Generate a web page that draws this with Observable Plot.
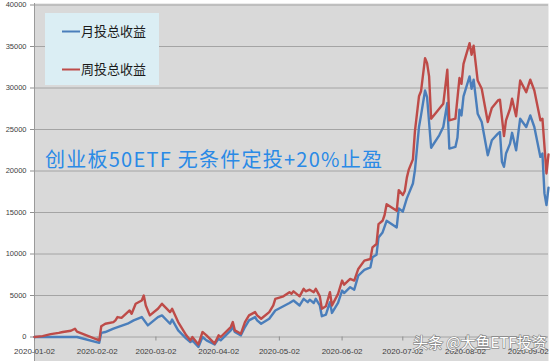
<!DOCTYPE html>
<html><head><meta charset="utf-8">
<script src="https://cdn.jsdelivr.net/npm/d3@7"></script>
<script src="https://cdn.jsdelivr.net/npm/@observablehq/plot@0.6"></script>
<style>
html,body{margin:0;padding:0;background:#fff;overflow:hidden;}
#chart{position:relative;width:554px;height:361px;}
</style></head><body><div id="chart"></div>
<script>
const seriesNames = ["月投总收益", "周投总收益"];
const seriesColors = ["#4a7ebb", "#be4b48"];
const titleText = "创业板50ETF 无条件定投+20%止盈";
const watermarkText = "头条 @大鱼ETF投资";
const xTickDates = ["2020-01-02","2020-02-02","2020-03-02","2020-04-02","2020-05-02","2020-06-02","2020-07-02","2020-08-02","2020-09-02"];
const yTicks = [0,5000,10000,15000,20000,25000,30000,35000,40000];

const monthlyDates = ["2020-01-02","2020-01-23","2020-02-03","2020-02-04","2020-02-06","2020-02-10","2020-02-17","2020-02-20","2020-02-24","2020-02-27",
"2020-03-03","2020-03-05","2020-03-09","2020-03-10","2020-03-13","2020-03-17","2020-03-19","2020-03-20","2020-03-23","2020-03-25","2020-03-27","2020-03-31",
"2020-04-02","2020-04-03","2020-04-08","2020-04-09","2020-04-10","2020-04-13","2020-04-15","2020-04-17","2020-04-20","2020-04-21","2020-04-23","2020-04-27","2020-04-30",
"2020-05-07","2020-05-09","2020-05-12","2020-05-14","2020-05-16","2020-05-17","2020-05-19","2020-05-20","2020-05-22","2020-05-23","2020-05-25","2020-05-27","2020-05-28","2020-05-31",
"2020-06-02","2020-06-03","2020-06-06","2020-06-08","2020-06-10","2020-06-13","2020-06-16","2020-06-17","2020-06-19","2020-06-20","2020-06-22","2020-06-24","2020-06-29","2020-06-30",
"2020-07-02","2020-07-04","2020-07-07","2020-07-08","2020-07-10","2020-07-11","2020-07-13","2020-07-14","2020-07-16","2020-07-20","2020-07-22","2020-07-24","2020-07-25","2020-07-28","2020-07-29","2020-07-30","2020-07-31",
"2020-08-01","2020-08-04","2020-08-05","2020-08-06","2020-08-08","2020-08-10","2020-08-13","2020-08-15","2020-08-18","2020-08-19","2020-08-20","2020-08-21","2020-08-22","2020-08-24","2020-08-25","2020-08-27","2020-08-29",
"2020-09-01","2020-09-03","2020-09-05","2020-09-08","2020-09-09","2020-09-10","2020-09-11","2020-09-12"];
const monthlyValues = [0,0,-700,500,600,1000,1600,2000,2400,1400,
2400,2600,1600,2100,800,-200,-600,-400,-1200,0,-400,-900,
-200,-400,800,1200,600,200,1200,2000,2400,2000,1600,2200,3200,
4100,4400,3800,4600,4200,4500,4100,4600,3800,2500,2700,4200,2900,4100,
5600,5300,6000,5700,7400,8100,8400,9600,9900,12000,12600,14000,13200,15500,
15100,16700,18500,20100,25300,26700,29700,28900,22800,24300,25300,28200,22700,22900,24000,27400,26700,
29000,31400,29900,31000,26900,25900,21900,23700,24500,24700,21100,20500,22100,23300,24600,22500,26300,
25300,26700,25300,21700,22100,17300,15900,18000];

const weeklyDates = ["2020-01-02","2020-01-06","2020-01-10","2020-01-14","2020-01-16","2020-01-20","2020-01-22","2020-01-23","2020-02-03","2020-02-04","2020-02-06","2020-02-10","2020-02-11","2020-02-12","2020-02-14","2020-02-18","2020-02-19","2020-02-21","2020-02-24","2020-02-25","2020-02-26","2020-02-28",
"2020-03-03","2020-03-05","2020-03-09","2020-03-10","2020-03-13","2020-03-17","2020-03-19","2020-03-20","2020-03-23","2020-03-25","2020-03-27","2020-03-31",
"2020-04-02","2020-04-03","2020-04-08","2020-04-09","2020-04-10","2020-04-13","2020-04-15","2020-04-17","2020-04-20","2020-04-21","2020-04-23","2020-04-27","2020-04-29","2020-04-30",
"2020-05-04","2020-05-07","2020-05-08","2020-05-09","2020-05-12","2020-05-14","2020-05-15","2020-05-17","2020-05-19","2020-05-20","2020-05-22","2020-05-23","2020-05-25","2020-05-27","2020-05-28","2020-05-31",
"2020-06-02","2020-06-03","2020-06-06","2020-06-08","2020-06-10","2020-06-13","2020-06-16","2020-06-17","2020-06-19","2020-06-20","2020-06-22","2020-06-23","2020-06-24","2020-06-29","2020-06-30",
"2020-07-02","2020-07-03","2020-07-04","2020-07-05","2020-07-07","2020-07-08","2020-07-10","2020-07-11","2020-07-13","2020-07-14","2020-07-15","2020-07-16","2020-07-20","2020-07-22","2020-07-24","2020-07-25","2020-07-28","2020-07-30","2020-07-31",
"2020-08-01","2020-08-04","2020-08-05","2020-08-06","2020-08-08","2020-08-10","2020-08-13","2020-08-15","2020-08-18","2020-08-19","2020-08-21","2020-08-22","2020-08-24","2020-08-25","2020-08-27","2020-08-29",
"2020-09-01","2020-09-03","2020-09-05","2020-09-08","2020-09-09","2020-09-11","2020-09-12"];
const weeklyValues = [0,100,350,500,600,750,1000,650,-400,1300,1600,1800,2000,2400,2300,3200,2800,4000,4400,5000,3800,2600,
3400,4000,3000,3400,1800,200,-400,0,-900,600,200,-800,
200,0,1200,1800,800,400,1800,2600,3000,2600,2200,3000,3800,4600,
4900,5400,5200,5500,4900,5800,5500,5700,5400,5800,4900,3400,3700,5400,3800,5200,
6800,6300,7000,6800,8200,9200,9400,10800,11200,13600,14000,14700,16000,15200,17700,
17100,17600,19200,20200,21400,24800,29000,29600,33600,33000,31400,26300,27500,28100,32200,26100,26300,31200,30500,
32900,35400,34000,35100,30900,29900,25900,27600,28500,28600,24200,26100,27500,28700,26600,30900,
29500,31000,29700,26100,26300,19700,22000];

const parse = d3.utcParse("%Y-%m-%d");
const data = [
  ...monthlyDates.map((d, i) => ({date: parse(d), value: monthlyValues[i], series: seriesNames[0]})),
  ...weeklyDates.map((d, i) => ({date: parse(d), value: weeklyValues[i], series: seriesNames[1]}))
];

const W = 554, H = 361;
const plot = Plot.plot({
  width: W, height: H,
  marginLeft: 34, marginRight: 6, marginTop: 3, marginBottom: 0,
  style: {fontFamily: "'Liberation Sans', Arial, sans-serif", background: "#fff", overflow: "visible"},
  x: {type: "utc", domain: [parse("2020-01-02"), parse("2020-09-12")], axis: null},
  y: {domain: [-5000, 40000], range: [378, 4.5], axis: null},
  color: {domain: seriesNames, range: seriesColors},
  marks: [
    Plot.frame({fill: "#d9d9d9", stroke: null}),
    Plot.gridY(yTicks, {stroke: "#a4a4a4", strokeOpacity: 1, strokeWidth: 1}),
    Plot.ruleX([parse("2020-01-02")], {stroke: "#9a9a9a", strokeWidth: 1}),
    Plot.axisY(yTicks, {anchor: "left", label: null, tickSize: 4, tickPadding: 4, tickFormat: d => String(d), fontSize: 7.5, stroke: "#8f8f8f", fill: "#404040"}),
    Plot.axisX(xTickDates.map(parse), {anchor: "bottom", label: null, dy: -24.5, tickSize: 4, tickPadding: 7, tickFormat: d3.utcFormat("%Y-%m-%d"), fontSize: 8, stroke: "#8f8f8f", fill: "#404040"}),
    Plot.line(data, {x: "date", y: "value", z: "series", stroke: "series", strokeWidth: 2.4, strokeLinejoin: "round", strokeLinecap: "round"})
  ]
});

const svg = d3.select(plot);
const lg = svg.append("g").attr("text-anchor", "start");
lg.append("rect").attr("x", 45).attr("y", 13).attr("width", 114).attr("height", 72).attr("fill", "#dbeef4");
seriesNames.forEach((name, i) => {
  const yy = 31.5 + i * 38;
  lg.append("line").attr("x1", 62).attr("x2", 80).attr("y1", yy).attr("y2", yy)
    .attr("stroke", seriesColors[i]).attr("stroke-width", 2);
  lg.append("text").attr("x", 81).attr("y", yy).attr("dy", "0.36em").attr("text-anchor", "start")
    .attr("font-family", "'Noto Sans CJK SC', sans-serif").attr("font-size", 13).attr("fill", "#1a1a1a")
    .text(name);
});
svg.append("text").attr("x", 45).attr("y", 167).attr("text-anchor", "start")
  .attr("font-family", "'Noto Sans CJK SC', sans-serif").attr("font-size", 20).attr("fill", "#2a8ae6")
  .attr("textLength", 337).attr("lengthAdjust", "spacing")
  .text(titleText);
svg.append("text").attr("x", 413).attr("y", 348).attr("text-anchor", "start")
  .attr("font-family", "'Noto Sans CJK SC', sans-serif").attr("font-size", 15)
  .attr("fill", "#ffffff").attr("stroke", "#555").attr("stroke-width", 1.4).attr("stroke-opacity", 0.6)
  .attr("paint-order", "stroke")
  .text(watermarkText);

document.getElementById("chart").appendChild(plot);
</script>
</body></html>
